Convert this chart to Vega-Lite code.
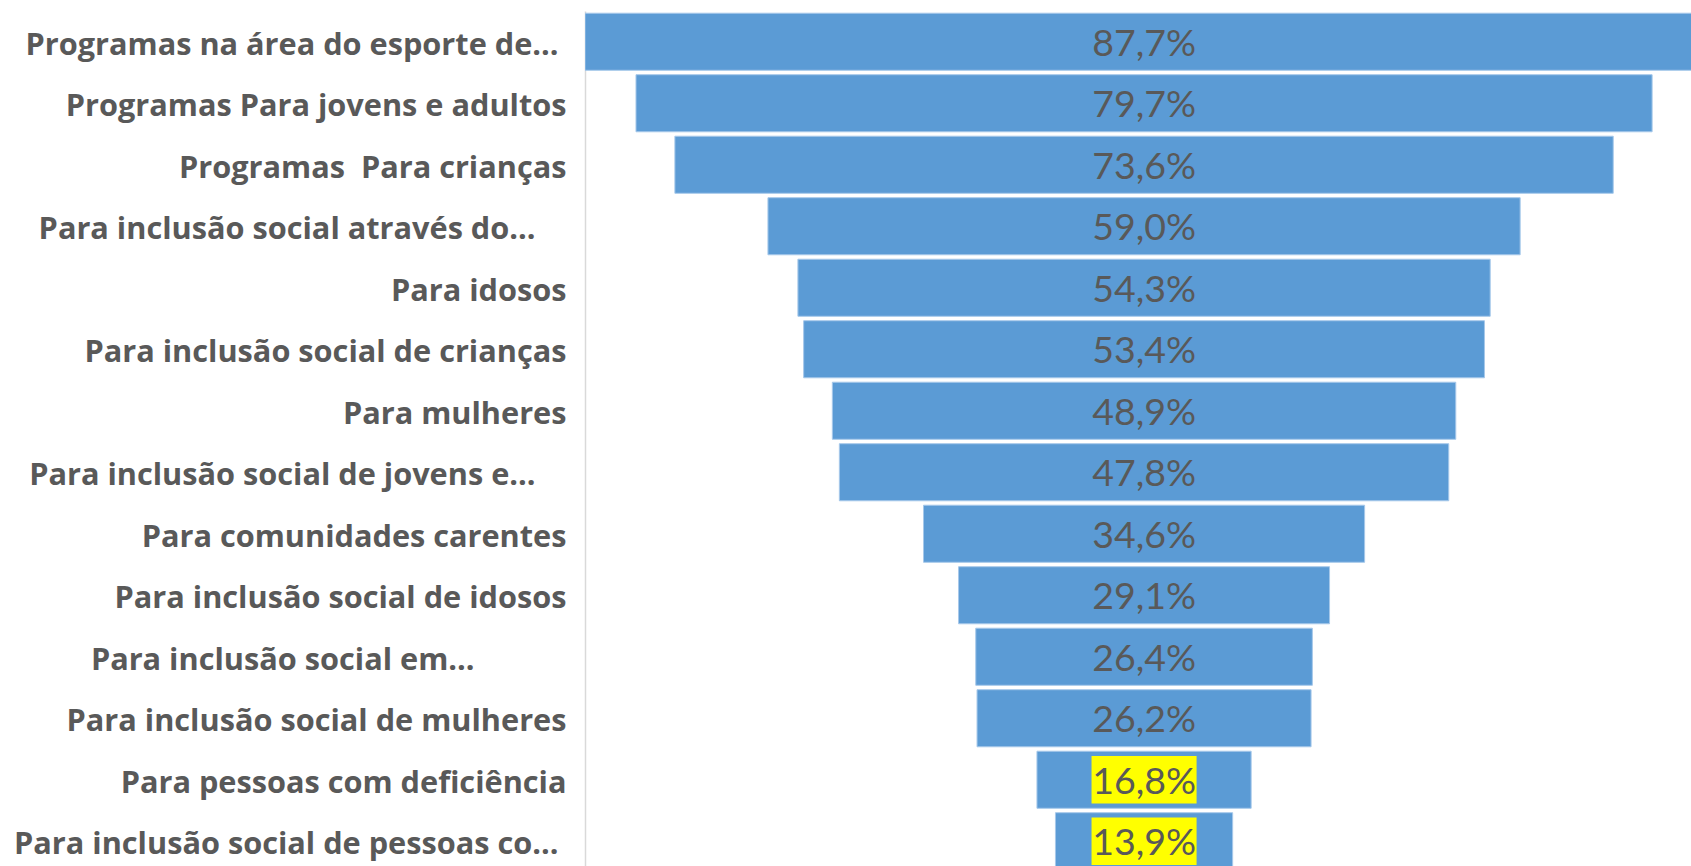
{
  "$schema": "https://vega.github.io/schema/vega-lite/v6.json",
  "autosize": "none",
  "padding": {"left": 585, "top": 11, "right": 0, "bottom": 0},
  "width": 1106,
  "height": 855,
  "background": "white",
  "config": {
    "view": {"stroke": null},
    "locale": {"number": {"decimal": ",", "thousands": ".", "grouping": [3], "currency": ["R$", ""]}}
  },
  "data": {
    "values": [
      {"categoria": "Programas na área do esporte de…\u00a0\u200b", "valor": 0.877, "destaque": false},
      {"categoria": "Programas Para jovens e adultos", "valor": 0.797, "destaque": false},
      {"categoria": "Programas \u00a0Para crianças", "valor": 0.736, "destaque": false},
      {"categoria": "Para inclusão social através do…\u00a0\u2800", "valor": 0.590, "destaque": false},
      {"categoria": "Para idosos", "valor": 0.543, "destaque": false},
      {"categoria": "Para inclusão social de crianças", "valor": 0.534, "destaque": false},
      {"categoria": "Para mulheres", "valor": 0.489, "destaque": false},
      {"categoria": "Para inclusão social de jovens e…\u00a0\u2800", "valor": 0.478, "destaque": false},
      {"categoria": "Para comunidades carentes", "valor": 0.346, "destaque": false},
      {"categoria": "Para inclusão social de idosos", "valor": 0.291, "destaque": false},
      {"categoria": "Para inclusão social em…\u2800\u2800\u2800\u2800", "valor": 0.264, "destaque": false},
      {"categoria": "Para inclusão social de mulheres", "valor": 0.262, "destaque": false},
      {"categoria": "Para pessoas com deficiência", "valor": 0.168, "destaque": true},
      {"categoria": "Para inclusão social de pessoas co…\u00a0\u200b", "valor": 0.139, "destaque": true}
    ]
  },
  "encoding": {
    "y": {
      "field": "categoria",
      "type": "nominal",
      "sort": null,
      "scale": {"range": [0, 861], "paddingInner": 0.072, "paddingOuter": 0.036},
      "axis": {
        "title": null,
        "ticks": false,
        "domainColor": "#d9d9d9",
        "domainWidth": 1.5,
        "labelFont": "Open Sans",
        "labelFontWeight": "bold",
        "labelFontSize": 30.7,
        "labelColor": "#595959",
        "labelPadding": 19,
        "labelOffset": 4,
        "labelLimit": 700,
        "labelOverlap": false
      }
    }
  },
  "layer": [
    {
      "mark": {"type": "bar", "color": "#5B9BD5", "stroke": "#a6c8ea", "strokeWidth": 1, "clip": true},
      "encoding": {
        "x": {
          "field": "valor",
          "type": "quantitative",
          "stack": "center",
          "scale": {"domain": [0, 0.8675], "nice": false, "zero": false},
          "axis": null
        }
      }
    },
    {
      "transform": [{"filter": "datum.destaque"}],
      "mark": {"type": "bar", "color": "#FFFF00", "height": {"band": 0.83}, "clip": true},
      "encoding": {
        "x": {"datum": 0.3973, "type": "quantitative"},
        "x2": {"datum": 0.4797}
      }
    },
    {
      "mark": {"type": "text", "font": "Lato", "fontSize": 37.5, "color": "#595959", "align": "center", "baseline": "middle", "dy": 3, "clip": true},
      "encoding": {
        "x": {"datum": 0.4385, "type": "quantitative"},
        "text": {"field": "valor", "type": "quantitative", "format": ".1%"}
      }
    }
  ]
}
